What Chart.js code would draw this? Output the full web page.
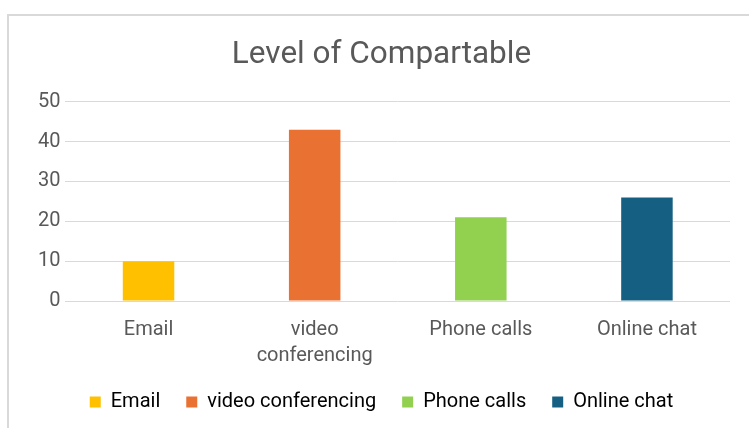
<!DOCTYPE html>
<html>
<head>
<meta charset="utf-8">
<script src="https://cdn.jsdelivr.net/npm/chart.js@4.4.1/dist/chart.umd.min.js"></script>
<style>
    html, body { margin: 0; padding: 0; background: #fff; overflow: hidden; }
    #frame {
        position: absolute; left: 7px; top: 14px; width: 800px; height: 480px;
        border-left: 2px solid #d9d9d9; border-top: 2px solid #d9d9d9;
    }
    #wrap { position: absolute; left: 0; top: 0; width: 749px; height: 428px; }
</style>
</head>
<body>
<div id="frame"></div>
<div id="wrap"><canvas id="chart" width="749" height="428"></canvas></div>
<script>
// data
const categories = ["Email", "video conferencing", "Phone calls", "Online chat"];
const xTickLabels = ["Email", ["video", "conferencing"], "Phone calls", "Online chat"];
const values = [10, 43, 21, 26];
const barColors = ["#FFC000", "#E97132", "#92D050", "#156082"];
const yTicks = [0, 10, 20, 30, 40, 50];

const textColor = "#595959";
const fontFamily = "Roboto, 'Noto Sans', sans-serif";

// move the legend row up a bit without changing the plot area
const legendShift = {
    id: "legendShift",
    afterLayout(chart) {
        chart.legend.top -= 19;
        chart.legend.bottom -= 19;
    }
};

const ctx = document.getElementById("chart").getContext("2d");
window.myChart = new Chart(ctx, {
    type: "bar",
    data: {
        labels: xTickLabels,
        datasets: [{
            label: "Level of Compartable",
            data: values,
            backgroundColor: barColors,
            borderWidth: 0,
            barPercentage: 0.31,
            categoryPercentage: 1
        }]
    },
    plugins: [legendShift],
    options: {
        responsive: false,
        animation: false,
        layout: { padding: { left: 33, right: 19, top: 20, bottom: -13 } },
        plugins: {
            title: {
                display: true,
                text: "Level of Compartable",
                color: textColor,
                font: { family: fontFamily, size: 31.5, weight: "normal" },
                padding: { top: 16, bottom: 28 }
            },
            legend: {
                position: "bottom",
                labels: {
                    color: textColor,
                    font: { family: fontFamily, size: 20 },
                    boxWidth: 11,
                    boxHeight: 11,
                    padding: 26,
                    generateLabels: () => categories.map((c, i) => ({
                        text: c,
                        fillStyle: barColors[i],
                        strokeStyle: barColors[i],
                        lineWidth: 0,
                        hidden: false,
                        index: i
                    }))
                },
                onClick: () => {}
            },
            tooltip: { enabled: false }
        },
        scales: {
            x: {
                grid: { display: false, drawTicks: false },
                border: { display: false },
                ticks: {
                    color: textColor,
                    font: { family: fontFamily, size: 20, lineHeight: 1.3 },
                    padding: 16,
                    maxRotation: 0
                }
            },
            y: {
                min: 0,
                max: 50,
                afterBuildTicks: (axis) => { axis.ticks = yTicks.map(v => ({ value: v })); },
                grid: { color: "#d9d9d9", lineWidth: 1, drawTicks: false },
                border: { display: false },
                ticks: {
                    color: textColor,
                    font: { family: fontFamily, size: 20 },
                    padding: 5
                }
            }
        }
    }
});
</script>
</body>
</html>
